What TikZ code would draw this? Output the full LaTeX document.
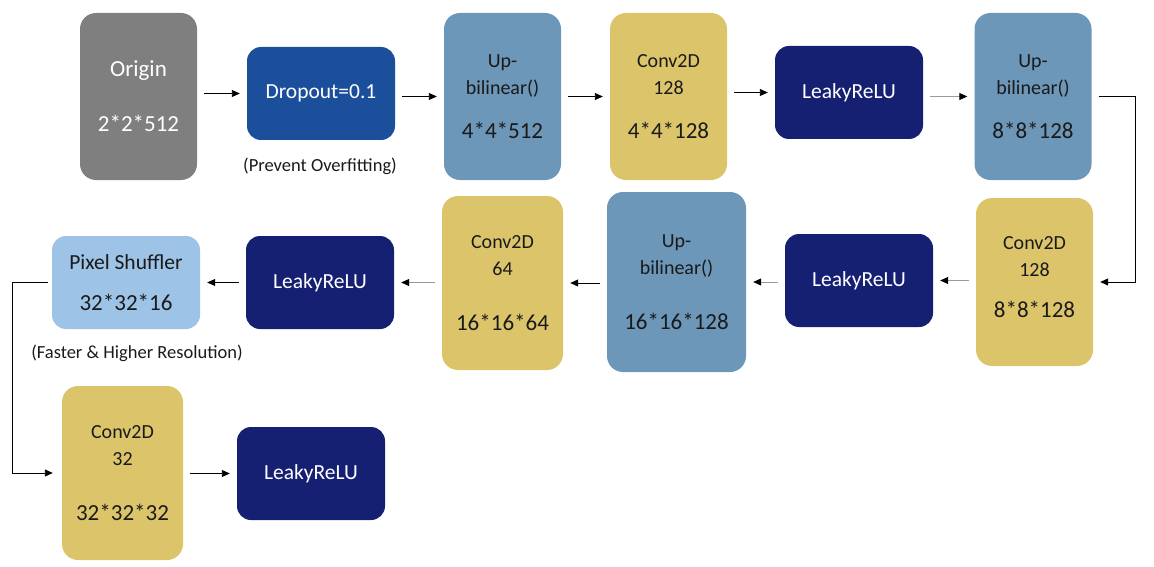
\documentclass[tikz,border=0pt]{standalone}
\usepackage{fontspec}
\setmainfont{Carlito}
\usetikzlibrary{arrows.meta,positioning}
\definecolor{origingray}{HTML}{7F7F7F}
\definecolor{dropblue}{HTML}{1B4F9C}
\definecolor{upblue}{HTML}{6C97B8}
\definecolor{convyel}{HTML}{DCC46B}
\definecolor{leakyblue}{HTML}{162073}
\definecolor{pixblue}{HTML}{9DC3E6}
\definecolor{textdark}{HTML}{1A1A1A}
\definecolor{linegray}{HTML}{9A9A9A}
\newcommand{\dims}[1]{{\fontsize{23}{27}\selectfont #1}}
\tikzset{
  blk/.style={rounded corners=16pt,inner sep=0pt,align=center,text=textdark,font=\fontsize{20}{27}\selectfont},
  tall/.style={blk,minimum width=117pt,minimum height=167pt},
  flat/.style={blk,minimum width=148pt,minimum height=93pt,rounded corners=14pt,font=\fontsize{21.5}{27}\selectfont},
  note/.style={inner sep=0pt,text=textdark,font=\fontsize{18.5}{20}\selectfont},
  arr/.style={-{Triangle[length=8pt,width=7pt,color=black]},line width=0.9pt,shorten <=7pt,shorten >=7pt},
  garr/.style={arr,draw=linegray}
}
\begin{document}
\begin{tikzpicture}[x=1pt,y=-1pt]
\useasboundingbox (0,0) rectangle (1154,567);
% first row
\node[tall,fill=origingray,text=white,font=\fontsize{23}{27}\selectfont] (origin) at (138.5,96.5) {Origin\\[28pt]2*2*512};
\node[flat,fill=dropblue,text=white] (drop) at (321,93.5) {Dropout=0.1};
\node[note] (dropnote) at (320,166) {(Prevent Overfitting)};
\node[tall,fill=upblue] (up1) at (502.5,96.5) {Up-\\bilinear()\\[17pt]\dims{4*4*512}};
\node[tall,fill=convyel] (conv1) at (668.5,96.5) {Conv2D\\128\\[17pt]\dims{4*4*128}};
\node[flat,fill=leakyblue,text=white] (leaky1) at (849,92.5) {LeakyReLU};
\node[tall,fill=upblue] (up2) at (1033,96.5) {Up-\\bilinear()\\[17pt]\dims{8*8*128}};
% second row
\node[tall,fill=convyel,minimum height=168pt] (conv2) at (1034.5,282) {Conv2D\\128\\[14pt]\dims{8*8*128}\\[-17pt]};
\node[flat,fill=leakyblue,text=white] (leaky2) at (859,280.5) {LeakyReLU};
\node[tall,fill=upblue,minimum width=139pt,minimum height=180pt] (up3) at (676.5,282) {Up-\\bilinear()\\[28pt]\dims{16*16*128}};
\node[tall,fill=convyel,minimum width=121pt,minimum height=174pt] (conv3) at (502.5,283) {Conv2D\\64\\[28pt]\dims{16*16*64}};
\node[flat,fill=leakyblue,text=white] (leaky3) at (320,282.5) {LeakyReLU};
\node[flat,fill=pixblue] (pixel) at (126,282.5) {Pixel Shuffler\\[14pt]\dims{32*32*16}};
\node[note] (pixnote) at (137,353) {(Faster \& Higher Resolution)};
% third row
\node[tall,fill=convyel,minimum width=121pt,minimum height=174pt] (conv4) at (122.5,473) {Conv2D\\32\\[28pt]\dims{32*32*32}};
\node[flat,fill=leakyblue,text=white] (leaky4) at (311,473.5) {LeakyReLU};
% connectors
\foreach \u/\v in {origin/drop,drop/up1,up1/conv1,conv1/leaky1,conv4/leaky4}
  \draw[arr] (\u.east |- \v) -- (\v.west);
\draw[garr] (leaky1.east |- up2) -- (up2.west);
\draw[arr] (up2.east) -- ++(44,0) |- (conv2.east);
\foreach \u/\v in {up3/conv3,leaky3/pixel}
  \draw[arr] (\u.west |- \v) -- (\v.east);
\foreach \u/\v in {conv2/leaky2,leaky2/up3,conv3/leaky3}
  \draw[garr] (\u.west |- \v) -- (\v.east);
\draw[arr,shorten <=4pt,shorten >=9pt] (pixel.west) -- ++(-39,0) |- (conv4.west);
\end{tikzpicture}
\end{document}
